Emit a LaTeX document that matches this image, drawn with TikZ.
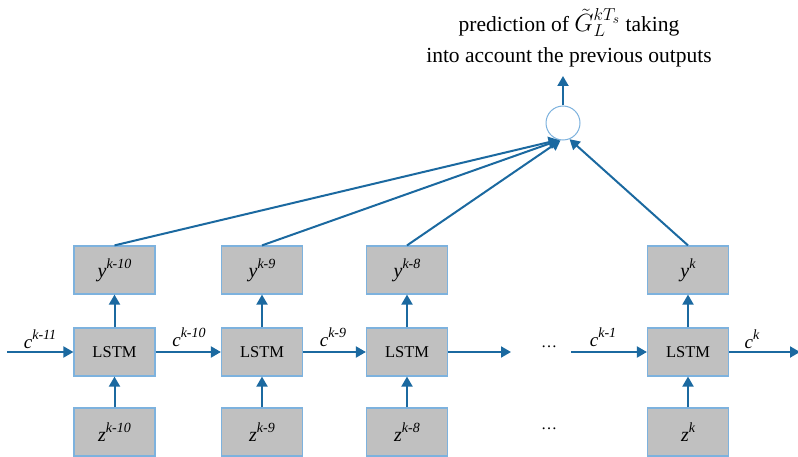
\documentclass[tikz,border=0pt]{standalone}
\usepackage{fontspec}
\setmainfont{Liberation Serif}
\usetikzlibrary{arrows.meta,calc}
\definecolor{arr}{RGB}{27,105,160}
\definecolor{bord}{RGB}{125,178,222}
\definecolor{boxg}{RGB}{192,192,192}
\newcommand\lblsup[2]{{\itshape #1\raisebox{0.45em}{\fontsize{14}{14}\selectfont\itshape #2}}}
\begin{document}
\begin{tikzpicture}[x=1pt,y=-1pt,
 box/.style={draw=bord,fill=boxg,line width=1.2pt,minimum width=81pt,minimum height=48pt,inner sep=0pt,font=\fontsize{16.5}{18}\selectfont},
 conn/.style={draw=arr,line width=2pt,-{Triangle[length=10pt,width=11pt]}},
 lbl/.style={font=\fontsize{19}{20}\selectfont,inner sep=0pt},
 dots/.style={font=\fontsize{16}{18}\selectfont,inner sep=0pt}]
\useasboundingbox (0,0) rectangle (798,457);
% top text
\node[align=center,font=\fontsize{21.5}{31}\selectfont,inner sep=0pt] (title) at (569,38)
  {prediction of \scalebox{1.2}{$\tilde{G}_{L}^{kT_{s}}$} taking\\into account the previous outputs};
% sum circle
\node[circle,draw=bord,line width=1pt,fill=white,minimum size=34pt,inner sep=0pt] (sum) at (563,123) {};
\coordinate (out) at (563,76);
\draw[conn] (sum.north) -- (out);
% columns
\foreach \n/\x/\s in {1/114.5/k-10,2/262/k-9,3/407/k-8,4/688/k}{
  \node[box] (y\n) at (\x,270) {\lblsup{\fontsize{20}{22}\selectfont y}{\s}};
  \node[box] (l\n) at (\x,352) {LSTM};
  \node[box] (z\n) at (\x,432) {\lblsup{\fontsize{20}{22}\selectfont z}{\s}};
  \draw[conn] (l\n.north) -- (y\n.south);
  \draw[conn] (z\n.north) -- (l\n.south);
}
% connections to sum
\draw[conn] (y1.north) -- (sum.255);
\draw[conn] (y2.north) -- (sum.258);
\draw[conn] (y3.north) -- (sum.262);
\draw[conn] (y4.north) -- (sum.292);
% chain
\coordinate (cin) at (7,352);
\coordinate (c3out) at (511,352);
\coordinate (c4in) at (571,352);
\coordinate (cout) at (800,352);
\draw[conn] (cin) -- (l1.west);
\draw[conn] (l1.east) -- (l2.west);
\draw[conn] (l2.east) -- (l3.west);
\draw[conn] (l3.east) -- (c3out);
\draw[conn] (c4in) -- (l4.west);
\draw[conn] (l4.east) -- (cout);
% dots
\node[dots] (d1) at (549,347) {\ldots};
\node[dots] (d2) at (549,429) {\ldots};
% labels
\node[lbl] (lc1) at (40,339) {\lblsup{c}{k-11}};
\node[lbl] (lc2) at (189,337) {\lblsup{c}{k-10}};
\node[lbl] (lc3) at (333,337) {\lblsup{c}{k-9}};
\node[lbl] (lc4) at (603,337) {\lblsup{c}{k-1}};
\node[lbl] (lc5) at (752,339) {\lblsup{c}{k}};
\end{tikzpicture}
\end{document}
